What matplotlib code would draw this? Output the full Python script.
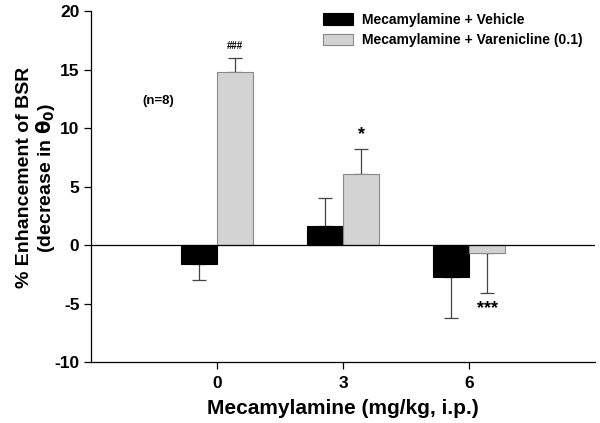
import numpy as np
import matplotlib.pyplot as plt

plt.rcParams['font.family'] = ['Liberation Sans', 'DejaVu Sans']
plt.rcParams['font.weight'] = 'bold'
plt.rcParams['axes.unicode_minus'] = False

doses = [0, 3, 6]
dose_labels = ['0', '3', '6']
vehicle = [-1.65, 1.6, -2.7]
vehicle_err = [1.35, 2.45, 3.55]
varen = [14.8, 6.05, -0.65]
varen_err = [1.15, 2.2, 3.45]
marks = ['###', '*', '***']

fig = plt.figure(figsize=(6, 4.23), dpi=100)
ax = fig.add_axes([0.152, 0.144, 0.840, 0.830])

x = np.array(doses, dtype=float)
w = 0.86

# one-sided error bars, in the direction of the bar
def one_side(vals, errs):
    lo = [e if v < 0 else 0 for v, e in zip(vals, errs)]
    hi = [e if v >= 0 else 0 for v, e in zip(vals, errs)]
    return [lo, hi]

ax.bar(x - w / 2, vehicle, w, color='black', edgecolor='black', linewidth=0.8,
       label='Mecamylamine + Vehicle', zorder=2)
ax.bar(x + w / 2, varen, w, color='#d3d3d3', edgecolor='#8a8a8a', linewidth=0.8,
       label='Mecamylamine + Varenicline (0.1)', zorder=2)
ax.errorbar(x - w / 2, vehicle, yerr=one_side(vehicle, vehicle_err), fmt='none',
            ecolor='#444444', elinewidth=0.9, capsize=5, capthick=0.9, zorder=1)
ax.errorbar(x + w / 2, varen, yerr=one_side(varen, varen_err), fmt='none',
            ecolor='#444444', elinewidth=0.9, capsize=5, capthick=0.9, zorder=1)

ax.axhline(0, color='black', linewidth=0.9, zorder=3)

# significance marks
ax.text(x[0] + w / 2, varen[0] + varen_err[0] + 0.6, marks[0], ha='center', va='bottom', fontsize=7)
ax.text(x[1] + w / 2, varen[1] + varen_err[1] + 0.5, marks[1], ha='center', va='bottom', fontsize=13)
ax.text(x[2] + w / 2, varen[2] - varen_err[2] - 0.6, marks[2], ha='center', va='top', fontsize=13)
ax.text(-1.4, 12.3, '(n=8)', ha='center', va='center', fontsize=9.5)

ax.set_xlim(-3, 9)
ax.set_ylim(-10, 20)
ax.set_yticks(range(-10, 21, 5))
ax.set_xticks(doses)
ax.set_xticklabels(dose_labels)
ax.tick_params(direction='out', length=5, width=0.9, labelsize=12.5, colors='black')
ax.tick_params(axis='x', pad=5)
for lbl in ax.get_xticklabels() + ax.get_yticklabels():
    lbl.set_fontweight('bold')
for s in ['top', 'right']:
    ax.spines[s].set_visible(False)
for s in ['left', 'bottom']:
    ax.spines[s].set_linewidth(0.9)

ax.set_xlabel('Mecamylamine (mg/kg, i.p.)', fontsize=15, fontweight='bold', labelpad=6)
ax.set_ylabel('% Enhancement of BSR\n(decrease in $\\mathbf{\\theta_0}$)', fontsize=14,
              fontweight='bold', linespacing=1.05)
ax.yaxis.set_label_coords(-0.068, 0.525)

ax.legend(loc='upper left', bbox_to_anchor=(0.435, 1.03), frameon=False, fontsize=10,
          handlelength=2.2, handleheight=0.9, handletextpad=0.6, labelspacing=0.45)

fig.savefig('out.png', dpi=100)
